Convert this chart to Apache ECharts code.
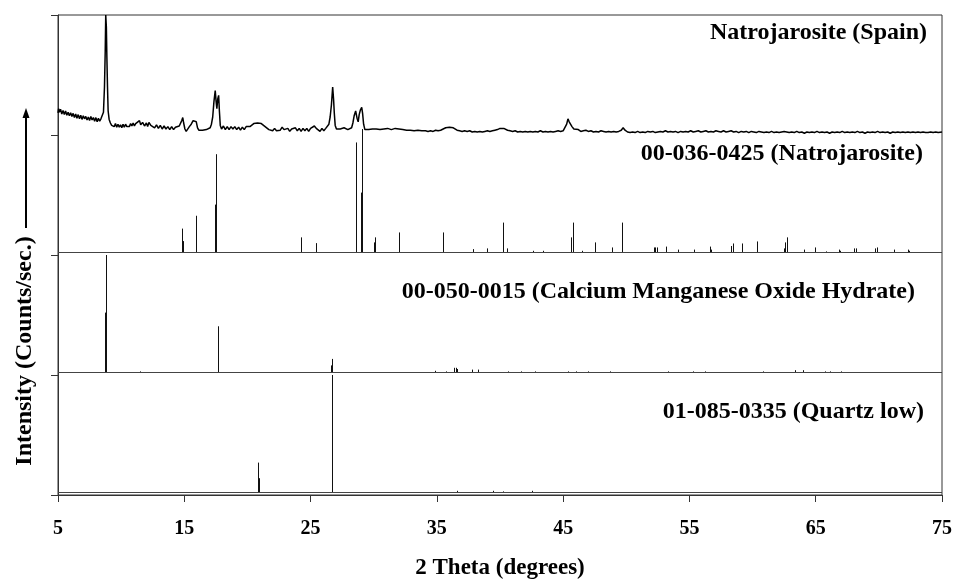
<!DOCTYPE html>
<html>
<head>
<meta charset="utf-8">
<script src="https://cdn.jsdelivr.net/npm/echarts@6/dist/echarts.min.js"></script>
<style>
html,body{margin:0;padding:0;background:#fff;}
#chart{width:957px;height:583px;}
</style>
</head>
<body>
<div id="chart"></div>
<script>
// ---- Data (2 Theta in degrees, intensity in % of panel height) ----
const panelNames = ['01-085-0335 (Quartz low)', '00-050-0015 (Calcium Manganese Oxide Hydrate)', '00-036-0425 (Natrojarosite)', 'Natrojarosite (Spain)'];
const xTickLabels = [5, 15, 25, 35, 45, 55, 65, 75];

// Measured pattern: Natrojarosite (Spain)
const sampleTheta = [5.0,5.05,5.1,5.2,5.3,5.4,5.5,5.6,5.7,5.8,5.9,6.0,6.1,6.2,6.3,6.4,6.5,6.6,6.7,6.8,6.9,7.0,7.1,7.2,7.3,7.4,7.5,7.6,7.7,7.8,7.9,8.0,8.1,8.2,8.3,8.4,8.5,8.6,8.68,8.74,8.78,8.83,8.87,8.92,8.97,9.05,9.15,9.25,9.35,9.45,9.55,9.65,9.75,9.85,9.95,10.05,10.15,10.25,10.35,10.45,10.55,10.65,10.75,10.85,10.95,11.05,11.15,11.3,11.45,11.55,11.7,11.85,12.0,12.1,12.2,12.35,12.5,12.65,12.8,12.95,13.1,13.25,13.4,13.55,13.7,13.85,14.0,14.15,14.3,14.45,14.6,14.7,14.8,14.88,14.95,15.05,15.15,15.25,15.4,15.55,15.7,15.85,15.95,16.05,16.15,16.3,16.45,16.6,16.75,16.9,17.05,17.15,17.25,17.35,17.45,17.52,17.58,17.65,17.72,17.78,17.85,17.95,18.1,18.25,18.4,18.55,18.7,18.85,19.0,19.15,19.3,19.45,19.6,19.75,19.9,20.05,20.2,20.35,20.5,20.65,20.8,20.95,21.1,21.25,21.4,21.55,21.7,21.85,22.0,22.15,22.3,22.45,22.6,22.75,22.9,23.05,23.2,23.35,23.5,23.65,23.8,23.95,24.1,24.25,24.4,24.55,24.7,24.85,25.0,25.15,25.3,25.45,25.6,25.75,25.9,26.05,26.2,26.35,26.45,26.55,26.65,26.75,26.82,26.88,26.95,27.05,27.2,27.35,27.5,27.65,27.8,27.95,28.1,28.25,28.35,28.45,28.57,28.68,28.77,28.85,28.95,29.05,29.12,29.2,29.3,29.45,29.6,29.75,29.9,30.05,30.2,30.35,30.5,30.65,30.8,30.95,31.1,31.25,31.4,31.55,31.7,31.85,32.0,32.15,32.3,32.45,32.6,32.75,32.9,33.05,33.2,33.35,33.5,33.65,33.8,33.95,34.1,34.3,34.5,34.7,34.9,35.1,35.3,35.5,35.7,35.85,36.0,36.15,36.3,36.45,36.6,36.8,37.0,37.2,37.4,37.6,37.8,38.0,38.2,38.4,38.6,38.8,39.0,39.2,39.4,39.6,39.8,40.0,40.15,40.3,40.45,40.6,40.8,41.0,41.2,41.4,41.6,41.8,42.0,42.2,42.4,42.6,42.8,43.0,43.2,43.4,43.6,43.8,44.0,44.2,44.4,44.6,44.8,45.0,45.15,45.28,45.38,45.48,45.58,45.7,45.85,46.0,46.2,46.4,46.6,46.8,47.0,47.2,47.4,47.6,47.8,48.0,48.2,48.4,48.6,48.8,49.0,49.2,49.4,49.6,49.75,49.9,50.1,50.3,50.5,50.7,50.9,51.1,51.3,51.5,51.7,51.9,52.1,52.3,52.5,52.7,52.9,53.1,53.3,53.5,53.7,53.9,54.1,54.3,54.5,54.7,54.9,55.1,55.3,55.5,55.7,55.9,56.1,56.3,56.5,56.7,56.9,57.1,57.3,57.5,57.7,57.9,58.1,58.3,58.5,58.7,58.9,59.1,59.3,59.5,59.7,59.9,60.1,60.3,60.5,60.7,60.9,61.1,61.3,61.5,61.7,61.9,62.1,62.3,62.5,62.7,62.9,63.1,63.3,63.5,63.7,63.9,64.1,64.3,64.5,64.7,64.9,65.1,65.3,65.5,65.7,65.9,66.1,66.3,66.5,66.7,66.9,67.1,67.3,67.5,67.7,67.9,68.1,68.3,68.5,68.7,68.9,69.1,69.3,69.5,69.7,69.9,70.1,70.3,70.5,70.7,70.9,71.1,71.3,71.5,71.7,71.9,72.1,72.3,72.5,72.7,72.9,73.1,73.3,73.5,73.7,73.9,74.1,74.3,74.5,74.7,75.0];
const sampleInt = [
  18.5,22,19,21.5,17.5,20.5,17,20,16.5,19,16,18.5,15.5,18,14.5,17.5,14,17,13.5,16.5,13,16,13.5,15.5,12.5,15,12,15.5,12.5,14.5,11.5,14.5,11,14,11.5,13.5,
  15,19,40,70,100,90,65,40,20,13,
  10,8,9.5,7,9.5,6.5,9,6.5,8.5,6,9,6.5,9,7,8.5,7,9.5,7.5,10,7.5,9.5,
  10.5,12,8.5,10.5,7.5,10,7,10.5,8,8.5,6,8.5,5.5,8,5,7.5,5,7,4.5,7,4.5,6.5,5,7.5,
  9,12,14.5,10,5,3,4.5,7,9,12,13.5,11,6,4,4.5,4,5,4.5,5.5,6,9,15,28,37,28,22,30,33,20,8,
  5,7.5,4.5,7,4.5,7,5,7,4.5,6.5,4,6.5,4.5,7,6,
  7,8,9.5,10.5,10,11,9.5,9,7,
  6,4.5,5.5,3.5,5.5,3.5,5,4,6.5,4.5,3,5.5,3,5,3.5,6,3.5,5.5,3,5.5,3.5,5.5,3,5.5,4.5,7.5,5.5,5.5,3,5.5,3.5,5.5,6.5,
  9,15,25,40,30,18,8,5,4.5,5,4.5,6,5.5,4.5,5,6,10,16,20,14,11,17,21,23,18,9,4.5,4,4.5,4,5,4.5,5,4,4.5,4,5,4.5,5.5,5,4.5,5,5.5,6,5,4,4.5,3.5,4,3.5,4,3,3.5,3,4,3,3.5,3,3.5,3,3.5,3,4,3.5,4,5,6,5,6.5,5.5,6,5,4,3.5,3,3.5,3,3.5,2.5,3,2.5,3,2.5,3,3.5,3,3.5,4,4.5,5.5,7,5.5,5,4,3.5,3,3.5,2.5,3,2.5,3,2.5,3,2.5,3,2.5,3.5,2.5,3,2.5,3,2.5,3,3.5,3,3.5,5,9,13.5,11,9.5,7,5,4,4.5,3,3.5,4,3,3.5,2.5,3,2.5,3.5,3,2.5,3,2.5,3,2.5,3,4,6,4,2.5,2,2.5,2,3,2,2.5,2,3,2.5,3,2,2.5,3,2.5,3.5,2.5,3,2.5,3,2,3,2.5,3,2.5,3.5,2.5,3,3.5,2.5,3,3.5,2.5,3,2.5,3.5,3,2.5,3.5,2.5,3,3.5,2.5,3,2,3,2.5,3,2,3,2.5,2,3,2.5,2,2.5,2,3,2,2.5,2,2.5,3,2.5,2,2.5,2,3,2,2.5,1.5,2.5,2,2.5,2,3,2,2.5,2,2.5,1.5,2.5,2,2.5,2,3,2,2.5,2,2.5,2,3,2,2.5,1.5,2.5,2,2.5,2,3,2,2.5,2,2.5,1.5,2.5,2,2.5,2,2.5,2,2.5,2,2.5,2,2.5,2,2.5,2,2,2.5,2,2.5,2,2.5
];

// Reference pattern 00-036-0425 (Natrojarosite)
const natroTheta = [14.8,14.9,15.9,17.45,17.51,24.26,25.45,28.57,29.0,29.1,30.05,30.12,32.0,35.46,37.83,38.95,39.0,40.23,40.57,42.63,43.43,45.59,45.8,46.46,47.52,48.89,49.68,52.17,52.29,52.45,53.11,54.09,55.36,56.62,56.7,58.29,58.47,59.18,60.37,62.46,62.56,62.69,64.04,64.91,65.78,66.81,66.92,68.05,68.18,69.69,69.85,71.21,72.27,72.41];
const natroInt = [20,9.6,30.7,40,82,12.7,7.9,91.8,50,103,8.5,12.7,16.8,16.8,2.9,2.5,3.5,25,3.5,1.5,1.5,12.7,25,1.5,8.5,4.3,25,4.3,4.3,4.3,5,2.5,2.5,5,2.5,5.5,7.6,7.6,9.3,3.5,8.5,12.7,2.5,4.3,1,2.5,1.5,3.5,3.5,3.5,4.3,2.5,2.5,1.5];

// Reference pattern 00-050-0015 (Calcium Manganese Oxide Hydrate)
const camnTheta = [8.72,8.8,11.5,17.69,26.6,26.7,34.87,35.69,36.35,36.55,36.62,37.8,38.27,40.6,41.64,42.74,45.41,46.04,46.93,48.71,53.28,55.32,56.2,60.84,63.35,63.98,65.71,66.12,66.97];
const camnInt = [50,98,1,38.6,6,11.4,1.5,1,4,4,3,2.5,2.5,1,1,1,1,1,1,1,1,1,1,1,2,2,1,1,1];

// Reference pattern 01-085-0335 (Quartz low)
const quartzTheta = [20.84,20.88,26.66,36.57,39.47,40.26,42.5];
const quartzInt = [25,12,98,1.5,1.5,1,1.5];

// ---- Build chart ----
const FONT = '"Liberation Serif", "Times New Roman", serif';
const PANEL = 100;       // height of one panel in axis units
const BASE_OFF = 2;      // stick pattern baseline above panel bottom

function sticks(thetas, ints, panelIndex) {
  const off = panelIndex * PANEL + BASE_OFF;
  return {
    type: 'custom',
    coordinateSystem: 'cartesian2d',
    silent: true,
    data: thetas.map((t, i) => [t, ints[i]]),
    encode: { x: 0, y: 1 },
    renderItem: function (params, api) {
      const x = api.value(0), h = api.value(1);
      const p0 = api.coord([x, off]);
      const p1 = api.coord([x, off + h]);
      const px = Math.round(p0[0]) + 0.5;
      return { type: 'line', shape: { x1: px, y1: p0[1], x2: px, y2: p1[1] },
               style: { stroke: '#111', lineWidth: 1 } };
    },
    markLine: {
      silent: true, symbol: 'none', animation: false,
      label: { show: false },
      lineStyle: { color: '#444', width: 1.2, type: 'solid' },
      data: [{ yAxis: off }]
    },
    z: 3
  };
}

const labelY = [412, 292, 154, 33];
const labelRight = [924, 915, 923, 927];

const chart = echarts.init(document.getElementById('chart'), null, { renderer: 'canvas' });
const option = {
  animation: false,
  backgroundColor: '#ffffff',
  grid: { left: 58, right: 15, top: 15, bottom: 88, containLabel: false, outerBoundsMode: 'none',
          show: true, borderColor: '#333', borderWidth: 1, backgroundColor: 'transparent' },
  xAxis: {
    type: 'value', min: xTickLabels[0], max: xTickLabels[xTickLabels.length - 1], interval: 10,
    axisLine: { show: true, lineStyle: { color: '#333', width: 1 } },
    axisTick: { show: true, inside: false, length: 7, lineStyle: { color: '#333' } },
    axisLabel: { margin: 24, color: '#000', fontFamily: FONT, fontWeight: 'bold', fontSize: 20,
                 formatter: v => xTickLabels.includes(v) ? String(v) : '' },
    splitLine: { show: false },
    name: '2 Theta (degrees)', nameLocation: 'middle', nameGap: 62,
    nameTextStyle: { color: '#000', fontFamily: FONT, fontWeight: 'bold', fontSize: 23 }
  },
  yAxis: {
    type: 'value', min: 0, max: 4 * PANEL, interval: PANEL,
    axisLine: { show: true, lineStyle: { color: '#333', width: 1 } },
    axisTick: { show: true, inside: false, length: 7, lineStyle: { color: '#333' } },
    axisLabel: { show: false },
    splitLine: { show: false }
  },
  series: [
    {
      type: 'line', silent: true, showSymbol: false, symbol: 'none',
      data: sampleTheta.map((t, i) => [t, 3 * PANEL + sampleInt[i]]),
      lineStyle: { color: '#000', width: 1.5 },
      z: 4
    },
    sticks(natroTheta, natroInt, 2),
    sticks(camnTheta, camnInt, 1),
    sticks(quartzTheta, quartzInt, 0)
  ],
  graphic: [
    ...panelNames.map((name, i) => ({
      type: 'text', x: labelRight[i], y: labelY[i], silent: true,
      style: { text: name, align: 'right', verticalAlign: 'middle', fill: '#000',
               fontFamily: FONT, fontWeight: 'bold', fontSize: 24 }
    })),
    {
      type: 'text', x: 25, y: 351, rotation: Math.PI / 2, silent: true,
      style: { text: 'Intensity (Counts/sec.)', align: 'center', verticalAlign: 'middle', fill: '#000',
               fontFamily: FONT, fontWeight: 'bold', fontSize: 24 }
    },
    {
      type: 'line', silent: true,
      shape: { x1: 26, y1: 228, x2: 26, y2: 115 },
      style: { stroke: '#000', lineWidth: 2 }
    },
    {
      type: 'polygon', silent: true,
      shape: { points: [[26, 108], [22.5, 118], [29.5, 118]] },
      style: { fill: '#000' }
    }
  ]
};
chart.setOption(option);
</script>
</body>
</html>
